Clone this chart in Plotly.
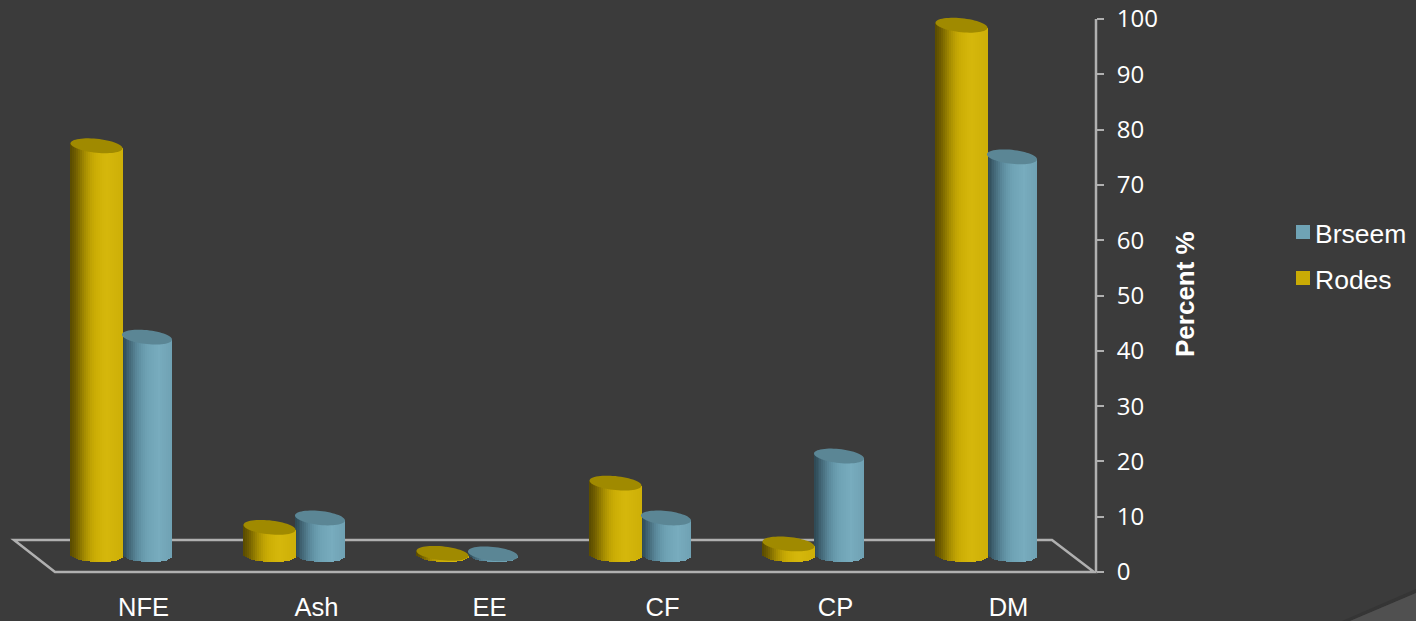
import numpy as np
import plotly.graph_objects as go

categories = ["NFE", "Ash", "EE", "CF", "CP", "DM"]
series_names = ["Brseem", "Rodes"]
rodes = [74, 5, 0.3, 13, 2, 95.8]
brseem = [39.4, 6.7, 0.2, 6.7, 17.9, 72]
y_ticks = list(range(0, 101, 10))

BG = "#3b3b3b"
AXIS = "#b0b0b0"
TEXT = "#ffffff"
W, H = 1416, 621
L, R, T, B = 0, 1096, 8, 572
X0, XS = 143.5, 173.0          # pixel of first category, pixels per category
YS = 5.53                      # pixels per percent
DEPTH = 17 / YS                # bars stand further back than the front axis plane
RY, TILT, FOOT_TILT, N = 7.0, 2.5, 1.0, 26

x_idx = np.arange(len(categories))


def lerp_color(stops, t):
    for (a, ca), (b, cb) in zip(stops, stops[1:]):
        if t <= b:
            f = (t - a) / (b - a)
            c = [ca[i] + (cb[i] - ca[i]) * f for i in range(3)]
            return "rgb(%d,%d,%d)" % tuple(c)
    return "rgb(%d,%d,%d)" % tuple(stops[-1][1])


def body(values, off_px, r_px, stops, name):
    xs, ys, bases, cols = [], [], [], []
    sw = 2 * r_px / N
    for i, v in zip(x_idx, values):
        for k in range(N):
            t = (k + 0.5) / N * 2 - 1
            low = DEPTH + (-RY * np.sqrt(1 - t * t) - FOOT_TILT * t) / YS
            top = DEPTH + v - t * TILT / YS
            xs.append(i + (off_px + t * r_px) / XS)
            bases.append(low)
            ys.append(top - low)
            cols.append(lerp_color(stops, (t + 1) / 2))
    return go.Bar(x=xs, y=ys, base=bases, width=(sw + 0.6) / XS,
                  marker=dict(color=cols, line=dict(width=0)),
                  showlegend=False, hoverinfo="skip", name=name, cliponaxis=False)


def cap(values, off_px, r_px, color, name):
    a = np.linspace(0, 2 * np.pi, 61)
    xs, ys = [], []
    for i, v in zip(x_idx, values):
        xs += list(i + (off_px + r_px * np.cos(a)) / XS) + [None]
        ys += list(DEPTH + v + (RY * np.sin(a) - TILT * np.cos(a)) / YS) + [None]
    return go.Scatter(x=xs, y=ys, mode="none", fill="toself", fillcolor=color,
                      showlegend=False, hoverinfo="skip", name=name, cliponaxis=False)


YEL = [(0, (88, 74, 0)), (0.1, (110, 92, 0)), (0.2, (140, 118, 0)), (0.3, (170, 144, 2)),
       (0.4, (192, 163, 4)), (0.5, (205, 175, 6)), (0.7, (214, 184, 12)), (1, (206, 176, 8))]
BLU = [(0, (46, 72, 84)), (0.1, (58, 90, 104)), (0.2, (74, 113, 129)), (0.3, (90, 136, 154)),
       (0.4, (102, 152, 170)), (0.5, (111, 163, 181)), (0.75, (120, 172, 190)), (1, (112, 162, 180))]

fig = go.Figure()
fig.add_trace(body(brseem, 3.5, 25, BLU, "Brseem"))
fig.add_trace(cap(brseem, 3.5, 25, "#5b8695", "Brseem top"))
fig.add_trace(body(rodes, -47, 26, YEL, "Rodes"))
fig.add_trace(cap(rodes, -47, 26, "#a08a00", "Rodes top"))


def px(x):
    return (x - L) / (R - L)


def py(y):
    return (B - y) / (B - T)


floor = "M %f %f L %f %f L %f %f L %f %f Z" % (px(14), py(540), px(1052), py(540),
                                               px(1094), py(572), px(55), py(572))
wedge = "M %f %f L %f %f L %f %f Z" % (px(1350), py(621), px(1416), py(593), px(1416), py(621))
wedge2 = "M %f %f L %f %f L %f %f L %f %f Z" % (px(1342), py(621), px(1416), py(589),
                                               px(1416), py(593), px(1350), py(621))
shapes = [
    dict(type="path", path=floor, xref="paper", yref="paper", layer="below",
         line=dict(color=AXIS, width=2.5)),
    dict(type="line", x0=1, x1=1, y0=y_ticks[0], y1=y_ticks[-1], xref="paper", yref="y",
         layer="above", line=dict(color=AXIS, width=2.5)),
    dict(type="path", path=wedge2, xref="paper", yref="paper", layer="below",
         fillcolor="#353535", line=dict(width=0)),
    dict(type="path", path=wedge, xref="paper", yref="paper", layer="below",
         fillcolor="#505050", line=dict(width=0)),
]
annotations = [dict(text="<b>Percent %</b>", textangle=-90, x=px(1185), y=py(294),
                    xanchor="center", yanchor="middle", xref="paper", yref="paper",
                    showarrow=False, font=dict(family="Liberation Sans", size=26, color=TEXT))]
for nm, col, top in zip(series_names, ("#6fa3b5", "#c9ab05"), (225, 271)):
    shapes.append(dict(type="rect", x0=px(1296), x1=px(1310), y0=py(top), y1=py(top + 14),
                       xref="paper", yref="paper", fillcolor=col, line=dict(width=0)))
    annotations.append(dict(text=nm, x=px(1313), y=py(top + 9), xanchor="left", yanchor="middle",
                            xref="paper", yref="paper", showarrow=False,
                            font=dict(family="Liberation Sans", size=26.5, color=TEXT)))

fig.update_layout(
    width=W, height=H, autosize=False, showlegend=False,
    paper_bgcolor=BG, plot_bgcolor=BG,
    margin=dict(l=L, r=W - R, t=T, b=H - B, pad=0),
    barmode="overlay", bargap=0,
    font=dict(family="Liberation Sans", color=TEXT, size=25),
    xaxis=dict(range=[(L - X0) / XS, (R - X0) / XS], tickmode="array",
               tickvals=list(x_idx), ticktext=categories, showgrid=False, zeroline=False,
               showline=False, ticks="", ticklabelstandoff=17,
               tickfont=dict(family="Liberation Sans", size=25.5, color=TEXT)),
    yaxis=dict(range=[0, (B - T) / YS], side="right", tickmode="array", tickvals=y_ticks,
               ticktext=[str(v) for v in y_ticks], showgrid=False, zeroline=False,
               showline=False, ticks="outside", ticklen=7,
               tickwidth=2, tickcolor=AXIS, ticklabelstandoff=8,
               tickfont=dict(family="Open Sans", size=24, color=TEXT)),
    shapes=shapes,
    annotations=annotations,
)
fig.write_html("out.html", config={"displayModeBar": False},
               post_script="document.body.style.margin='0';")
